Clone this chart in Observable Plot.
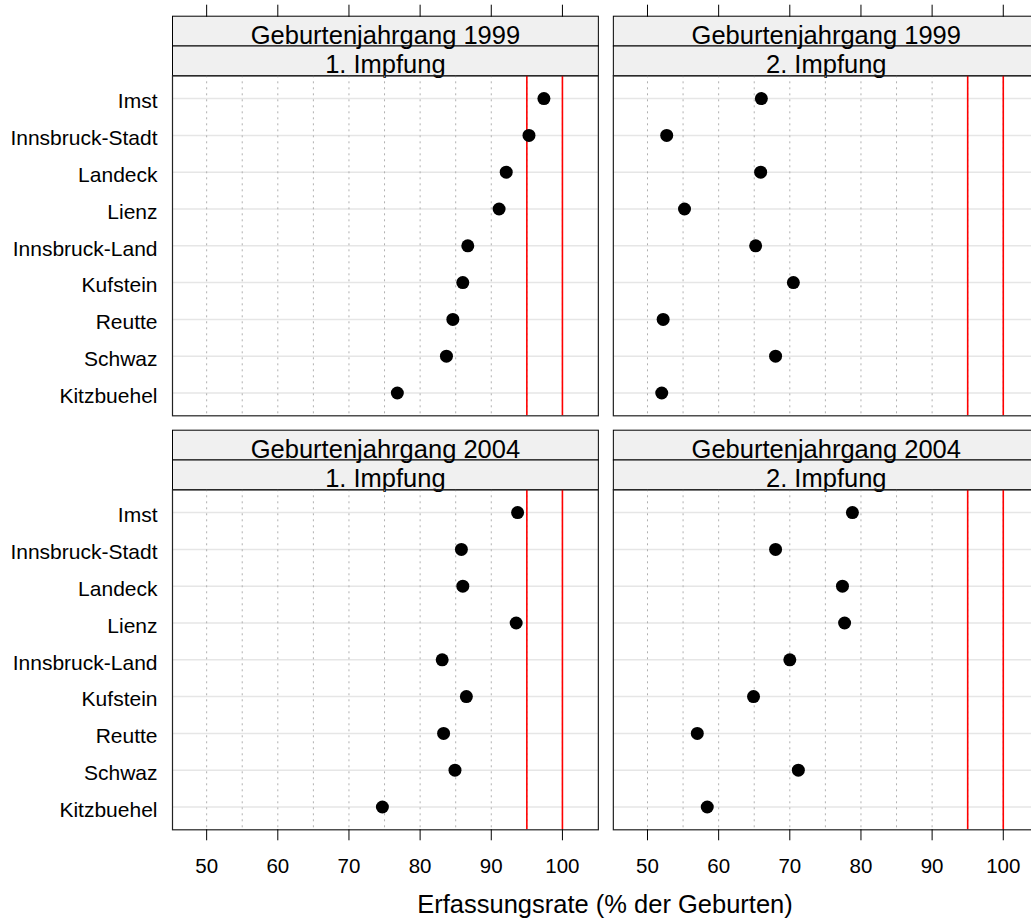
<!DOCTYPE html>
<html>
<head>
<meta charset="utf-8">
<script src="https://cdn.jsdelivr.net/npm/d3@7"></script>
<script src="https://cdn.jsdelivr.net/npm/@observablehq/plot@0.6"></script>
<style>
  html, body { margin: 0; padding: 0; background: #fff; overflow: hidden; }
  #wrap { position: relative; width: 1031px; height: 921px; overflow: hidden; font-family: "Liberation Sans", Arial, sans-serif; }
  #chart { width: 1040px; }
  #chart svg { max-width: none !important; display: block; }
  #xtitle { position: absolute; top: 892px; left: 605px; transform: translateX(-50%); white-space: nowrap; font-size: 25.5px; line-height: 1; color: #000; }
</style>
</head>
<body>
<div id="wrap"><div id="chart"></div><div id="xtitle">Erfassungsrate (% der Geburten)</div></div>
<script>
// Categories (top to bottom)
const districts = ["Imst", "Innsbruck-Stadt", "Landeck", "Lienz", "Innsbruck-Land", "Kufstein", "Reutte", "Schwaz", "Kitzbuehel"];
const jahrgaenge = ["1999", "2004"];
const impfungen = ["1. Impfung", "2. Impfung"];

// Series values (Erfassungsrate, % der Geburten), in district order
const v1999_dose1 = [97.4, 95.3, 92.1, 91.1, 86.7, 86.0, 84.6, 83.7, 76.8];
const v1999_dose2 = [66.0, 52.7, 65.9, 55.2, 65.2, 70.5, 52.2, 68.0, 52.0];
const v2004_dose1 = [93.7, 85.8, 86.0, 93.5, 83.1, 86.5, 83.3, 84.9, 74.7];
const v2004_dose2 = [78.8, 68.0, 77.4, 77.7, 70.0, 64.9, 57.0, 71.2, 58.4];

// Axis / reference values
const tickValues = [50, 60, 70, 80, 90, 100];
const gridValues = [50, 55, 60, 65, 70, 75, 80, 85, 90, 95, 100];
const refLines = [95, 100];
const xDomain = [45.2, 105.05];

const series = [
  {jahrgang: "1999", impfung: "1. Impfung", values: v1999_dose1},
  {jahrgang: "1999", impfung: "2. Impfung", values: v1999_dose2},
  {jahrgang: "2004", impfung: "1. Impfung", values: v2004_dose1},
  {jahrgang: "2004", impfung: "2. Impfung", values: v2004_dose2}
];
const data = series.flatMap(s => s.values.map((v, i) => ({jahrgang: s.jahrgang, impfung: s.impfung, district: districts[i], value: v})));
const strips = series.map(s => ({jahrgang: s.jahrgang, impfung: s.impfung, label1: "Geburtenjahrgang " + s.jahrgang, label2: s.impfung}));

const W = 1040, H = 880;
const mTop = 75.3, mBottom = H - 829.3, mLeft = 172, mRight = W - 1038.7;
const panelH = 340;

const chart = Plot.plot({
  width: W,
  height: H,
  marginTop: mTop,
  marginBottom: mBottom,
  marginLeft: mLeft,
  marginRight: mRight,
  facetMarginTop: 0, facetMarginBottom: 0, facetMarginLeft: 0, facetMarginRight: 0,
  style: {fontFamily: "Liberation Sans, Arial, sans-serif", color: "black", background: "white", maxWidth: "none"},
  fx: {domain: impfungen, axis: null, paddingInner: 0.034, paddingOuter: 0, round: false},
  fy: {domain: jahrgaenge, axis: null, paddingInner: 0.1787, paddingOuter: 0, round: false},
  x: {domain: xDomain, nice: false},
  y: {type: "point", domain: districts, padding: 0.62, round: false},
  marks: [
    // strips
    Plot.frame({fill: "#f0f0f0", stroke: "black", strokeWidth: 1, insetTop: -59.6, insetBottom: panelH + 29.8}),
    Plot.frame({fill: "#f0f0f0", stroke: "black", strokeWidth: 1, insetTop: -29.8, insetBottom: panelH}),
    Plot.text(strips, {fx: "impfung", fy: "jahrgang", text: "label1", frameAnchor: "top", dy: -40.2, lineAnchor: "middle", fontSize: 25.5, fill: "black"}),
    Plot.text(strips, {fx: "impfung", fy: "jahrgang", text: "label2", frameAnchor: "top", dy: -10.8, lineAnchor: "middle", fontSize: 25.5, fill: "black"}),
    // grid
    Plot.ruleY(districts, {y: d => d, stroke: "#e6e6e6", strokeWidth: 1.5}),
    Plot.ruleX(gridValues, {x: d => d, stroke: "#b0b0b0", strokeWidth: 1, strokeDasharray: "2,4"}),
    Plot.ruleX(refLines, {x: d => d, stroke: "#ff0000", strokeWidth: 1.6}),
    // dots
    Plot.dot(data, {x: "value", y: "district", fx: "impfung", fy: "jahrgang", r: 6.5, fill: "black", stroke: "none"}),
    // panel border
    Plot.frame({stroke: "#222", strokeWidth: 1.2}),
    // axes
    Plot.axisY({anchor: "left", tickSize: 0, tickPadding: 15, fontSize: 21, label: null, dy: 3}),
    Plot.axisX({anchor: "bottom", ticks: tickValues, tickSize: 11, tickPadding: 17.8, fontSize: 20.5, label: null, stroke: "black"}),
    Plot.axisX({anchor: "top", ticks: tickValues, tickSize: 12, tickFormat: () => "", label: null, dy: -59.6, stroke: "black"})
  ]
});
document.getElementById("chart").appendChild(chart);
</script>
</body>
</html>
